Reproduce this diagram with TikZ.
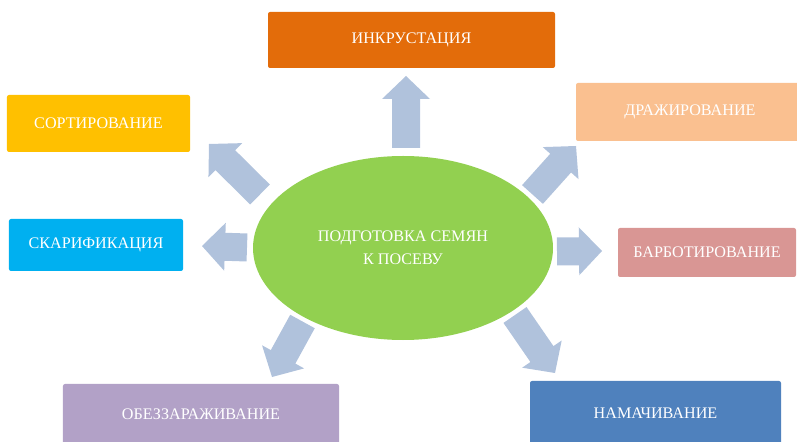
\documentclass[tikz,border=0pt]{standalone}
\usepackage{fontspec}
\setmainfont{Liberation Serif}
\usetikzlibrary{calc,shapes.geometric}
\definecolor{cInk}{HTML}{E36C0A}
\definecolor{cSort}{HTML}{FFC000}
\definecolor{cSkar}{HTML}{00B0F0}
\definecolor{cObez}{HTML}{B2A1C7}
\definecolor{cDraz}{HTML}{FAC090}
\definecolor{cBarb}{HTML}{D99694}
\definecolor{cNam}{HTML}{4F81BD}
\definecolor{cCore}{HTML}{92D050}
\definecolor{cArr}{HTML}{B0C2DC}
\newcommand\blkarrow[2]{%
  \coordinate (nk) at ($(#2)!23bp!(#1)$);
  \fill[arrowfill] ($(#1)!14bp!90:(#2)$) -- ($(nk)!14bp!90:(#2)$) -- ($(nk)!24bp!90:(#2)$) -- (#2)
    -- ($(nk)!24bp!-90:(#2)$) -- ($(nk)!14bp!-90:(#2)$) -- ($(#1)!14bp!-90:(#2)$) -- cycle;
}
\begin{document}
\begin{tikzpicture}[x=1bp,y=-1bp,
  box/.style={rectangle, rounded corners=2bp, text=white, inner sep=0pt,
    font=\fontsize{16.2}{19}\selectfont},
  arrowfill/.style={fill=cArr}]
\useasboundingbox (0,0) rectangle (797,442);
\clip (0,0) rectangle (797,442);
\node[box, fill=cInk,  minimum width=287bp, minimum height=56bp] (ink)  at (411.5,40)  {ИНКРУСТАЦИЯ};
\node[box, fill=cSort, minimum width=183bp, minimum height=57bp] (sort) at (98.5,123.5) {СОРТИРОВАНИЕ};
\node[box, fill=cSkar, minimum width=174bp, minimum height=52bp] (skar) at (96,245)    {СКАРИФИКАЦИЯ};
\node[box, fill=cObez, minimum width=276bp, minimum height=60bp] (obez) at (201,414)   {ОБЕЗЗАРАЖИВАНИЕ};
\node[box, fill=cDraz, minimum width=228bp, minimum height=58bp] (draz) at (690,112)   {ДРАЖИРОВАНИЕ};
\node[box, fill=cBarb, minimum width=178bp, minimum height=49bp] (barb) at (707,252.5) {БАРБОТИРОВАНИЕ};
\node[box, fill=cNam,  minimum width=251bp, minimum height=64bp] (nam)  at (655.5,413) {НАМАЧИВАНИЕ};
\node[ellipse, fill=cCore, minimum width=300bp, minimum height=184bp, inner sep=0pt,
  align=center, text=white, font=\fontsize{16.2}{23}\selectfont] (core) at (403,248)
  {ПОДГОТОВКА СЕМЯН\\К ПОСЕВУ};
\coordinate (a1b) at (406,148);   \coordinate (a1t) at (406,76);
\coordinate (a2b) at (260,194.5); \coordinate (a2t) at (209,144);
\coordinate (a3b) at (247,247.5); \coordinate (a3t) at (202,246);
\coordinate (a4b) at (302.5,321.5); \coordinate (a4t) at (272,377);
\coordinate (a5b) at (532.5,194.5); \coordinate (a5t) at (576,146);
\coordinate (a6b) at (557,251.5); \coordinate (a6t) at (602,251);
\coordinate (a7b) at (515,315);   \coordinate (a7t) at (555,373);
\blkarrow{a1b}{a1t}
\blkarrow{a2b}{a2t}
\blkarrow{a3b}{a3t}
\blkarrow{a4b}{a4t}
\blkarrow{a5b}{a5t}
\blkarrow{a6b}{a6t}
\blkarrow{a7b}{a7t}
\end{tikzpicture}
\end{document}
